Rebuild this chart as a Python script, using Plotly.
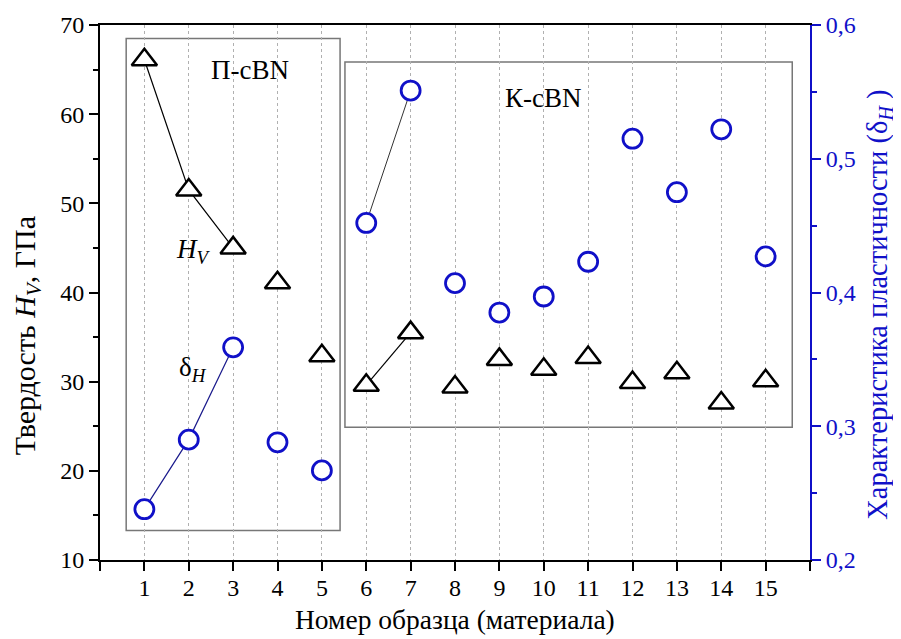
import plotly.graph_objects as go

samples = list(range(1, 16))
hardness = [66.1, 51.5, 45.0, 41.1, 32.9, 29.6, 35.5, 29.4, 32.5, 31.4, 32.7, 29.9, 31.0, 27.6, 30.1]
plasticity = [0.238, 0.290, 0.359, 0.288, 0.267, 0.452, 0.551, 0.407, 0.385, 0.397, 0.423, 0.515, 0.475, 0.522, 0.427]
groups = [[0, 1, 2], [5, 6]]  # indices connected with lines
x_ticks = list(range(0, 17))
x_ticktext = [""] + [str(i) for i in range(1, 16)] + [""]

x_title = "Номер образца (материала)"
y_title = "Твердость <i>H<sub>V</sub></i>, ГПа"
y2_title = "Характеристика пластичности (δ<sub><i>H</i></sub> )"

FONT = "Liberation Serif"
BLUE = "#1010c8"
TICK = 24

fig = go.Figure()

def seg(vals):
    xs, ys = [], []
    for g in groups:
        xs += [samples[i] for i in g] + [None]
        ys += [vals[i] for i in g] + [None]
    return xs, ys

hx, hy = seg(hardness)
px_, py_ = seg(plasticity)
fig.add_trace(go.Scatter(x=hx, y=hy, mode="lines", line=dict(color="black", width=1.2),
                         showlegend=False, hoverinfo="skip"))
fig.add_trace(go.Scatter(x=px_[:4], y=py_[:4], mode="lines", line=dict(color="#1a1a8c", width=1.2),
                         yaxis="y2", showlegend=False, hoverinfo="skip"))
fig.add_trace(go.Scatter(x=px_[4:], y=py_[4:], mode="lines", line=dict(color="#333333", width=1.0),
                         yaxis="y2", showlegend=False, hoverinfo="skip"))

fig.add_trace(go.Scatter(x=samples, y=hardness, mode="markers",
                         marker=dict(symbol="triangle-up", size=22, color="white",
                                     line=dict(color="black", width=2.5)),
                         showlegend=False, name="H_V"))
fig.add_trace(go.Scatter(x=samples, y=plasticity, mode="markers", yaxis="y2",
                         marker=dict(symbol="circle", size=19, color="white",
                                     line=dict(color=BLUE, width=2.8)),
                         showlegend=False, name="δ_H"))

fig.add_shape(type="rect", xref="x", yref="y", x0=0.59, x1=5.41, y0=13.3, y1=68.5,
              line=dict(color="#777777", width=1.5), layer="below")
fig.add_shape(type="rect", xref="x", yref="y", x0=5.52, x1=15.6, y0=24.9, y1=65.85,
              line=dict(color="#777777", width=1.5), layer="below")

ann_font = dict(family=FONT, size=27, color="black")
fig.add_annotation(x=3.38, y=65.0, text="П-cBN", showarrow=False, font=ann_font)
fig.add_annotation(x=10.0, y=61.8, text="К-cBN", showarrow=False, font=ann_font)
fig.add_annotation(x=2.1, y=44.6, text="<i>H<sub>V</sub></i>", showarrow=False, font=ann_font)
fig.add_annotation(x=2.1, y=31.4, text="δ<sub><i>H</i></sub>", showarrow=False, font=ann_font)

# axis titles
fig.add_annotation(xref="paper", yref="paper", x=0.5, y=-0.112, text=x_title,
                   showarrow=False, xanchor="center", yanchor="middle",
                   font=dict(family=FONT, size=27.5, color="black"))
fig.add_annotation(xref="paper", yref="paper", x=-0.103, y=0.42, text=y_title,
                   showarrow=False, xanchor="center", yanchor="middle", textangle=-90,
                   font=dict(family=FONT, size=30, color="black"))
fig.add_annotation(xref="paper", yref="paper", x=1.0986, y=0.477, text=y2_title,
                   showarrow=False, xanchor="center", yanchor="middle", textangle=-90,
                   font=dict(family=FONT, size=28.5, color=BLUE))

# page body has an 8px default margin, so the figure is sized to compensate
fig.update_layout(
    width=893, height=631,
    margin=dict(l=92, r=91, t=17, b=79, autoexpand=False),
    paper_bgcolor="white", plot_bgcolor="white",
    separators=", ",
    font=dict(family=FONT, size=TICK, color="black"),
    xaxis=dict(range=[0, 16], tickvals=x_ticks, ticktext=x_ticktext,
               showline=True, linecolor="black", linewidth=2, mirror=True,
               ticks="outside", ticklen=9, tickwidth=2, tickcolor="black",
               ticklabelstandoff=-4,
               showgrid=True, gridcolor="#b0b0b0", griddash="dot", gridwidth=1,
               zeroline=False, automargin=False,
               tickfont=dict(family=FONT, size=TICK)),
    yaxis=dict(range=[10, 70], dtick=10, showline=True, linecolor="black", linewidth=2,
               ticks="outside", ticklen=9, tickwidth=2, tickcolor="black",
               minor=dict(dtick=5, ticks="outside", ticklen=5, tickwidth=1.5, tickcolor="black"),
               showgrid=False, zeroline=False, automargin=False,
               tickfont=dict(family=FONT, size=TICK)),
    yaxis2=dict(range=[0.2, 0.6], dtick=0.1, tickformat=".1f", overlaying="y", side="right",
                showline=True, linecolor=BLUE, linewidth=2,
                ticks="outside", ticklen=9, tickwidth=2, tickcolor=BLUE,
                minor=dict(dtick=0.05, ticks="outside", ticklen=5, tickwidth=1.5, tickcolor=BLUE),
                showgrid=False, zeroline=False, automargin=False,
                tickfont=dict(family=FONT, size=TICK, color=BLUE)),
)

fig.write_html("out.html")
